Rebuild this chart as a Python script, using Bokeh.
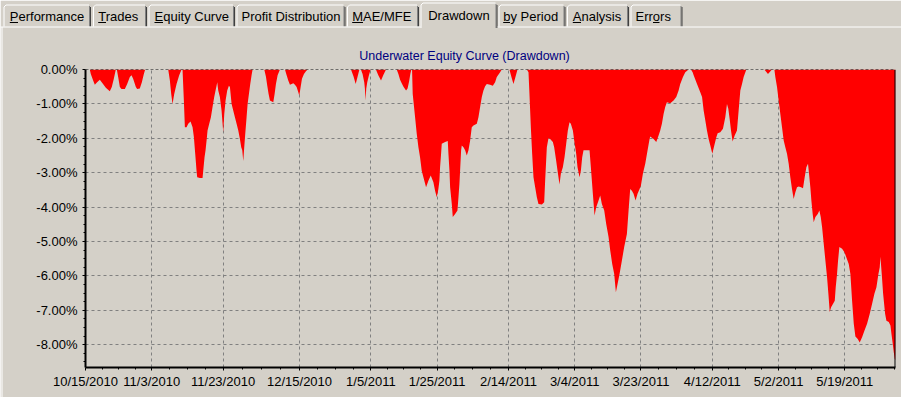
from bokeh.plotting import figure
from bokeh.models import Range1d, FixedTicker, PrintfTickFormatter, Span, ColumnDataSource
from bokeh.core.properties import value
from bokeh.embed import file_html
from bokeh.resources import INLINE

# ---------------- data ----------------
# x = trading-day index counted from 10/15/2010, y = drawdown in percent
day_index = [
    0.00, 0.84, 1.04, 1.50, 1.83, 2.28, 2.81, 3.33, 3.99, 4.77, 5.16, 5.56, 5.95, 6.15, 6.41, 6.74, 7.06, 7.72, 8.18,
    8.70, 9.03, 9.35, 9.88, 10.14, 10.66, 11.06, 11.45, 11.71,
    16.23, 16.55, 16.82, 17.08, 17.41, 17.87, 18.39, 18.85,
    19.04, 19.30, 19.50, 19.83, 20.16, 20.61, 21.01, 21.27, 21.53, 21.79, 21.92, 22.45, 22.97, 23.17, 23.36, 23.56,
    23.76, 23.95, 24.28, 24.61, 24.93, 25.26, 25.52, 25.72, 25.85, 26.05, 26.37, 26.70, 26.90, 27.03, 27.23, 27.49,
    27.81, 28.14, 28.34, 28.67, 28.99, 29.32, 29.65, 29.98, 30.30, 30.56, 30.76, 30.96, 31.15, 31.35, 31.61, 31.81,
    32.07, 32.33, 32.59, 32.79,
    35.08, 35.41, 35.67, 35.93, 36.19, 36.85, 37.11, 37.37, 37.70, 38.16,
    39.14, 39.47, 39.79, 40.12, 40.45, 40.78, 41.10, 41.43, 41.76, 41.95, 42.22, 42.48, 42.87, 43.26, 43.59,
    52.10, 52.60, 53.02, 53.40, 53.75,
    54.04, 54.37, 54.70, 54.83, 54.96, 55.09, 55.29, 55.62, 55.94,
    56.99, 57.46, 57.99, 58.45, 58.97,
    61.07, 61.40, 61.73, 62.05, 62.40, 62.90, 63.20, 63.50, 63.75, 63.95,
    64.08, 64.21, 64.47, 64.74, 65.00, 65.33, 65.65, 65.98, 66.31, 66.57, 66.83, 67.29, 67.75, 68.27, 68.60, 68.93,
    69.25, 69.45, 69.58, 69.78, 69.91, 70.57, 71.09, 71.22, 71.42, 71.55, 71.88, 72.07, 72.53, 72.99, 73.19, 73.38,
    73.51, 73.71, 73.84, 74.17, 74.50, 74.82, 75.15, 75.48, 75.80, 76.13, 76.79, 77.11, 77.44, 77.77, 78.09, 78.42,
    78.75, 79.40, 79.93, 80.38, 80.71, 81.36, 81.69,
    83.19, 83.58, 83.98, 84.37, 84.77,
    86.60, 86.93, 87.12, 87.39, 87.65, 87.91, 88.24, 88.57, 88.89, 89.55, 90.01, 90.20, 90.53, 90.86, 91.18, 91.71,
    91.97, 92.36, 92.63, 93.02, 93.28, 93.67, 94.00, 94.33, 94.65, 94.98, 95.24, 95.64, 95.90, 96.29, 96.55, 96.95,
    97.21, 97.47, 97.73, 98.91, 99.17, 99.56, 99.89, 100.22, 100.68, 101.00, 101.33, 101.79, 102.18, 102.64, 102.97,
    103.36, 103.75, 104.08, 104.41, 104.80, 105.26, 105.71, 106.24, 106.57, 106.89, 107.22, 107.55, 107.94, 108.33,
    108.73, 108.99, 109.38, 109.84, 110.30, 110.69, 110.82, 111.48, 112.00, 112.46, 112.78, 113.11, 113.44, 113.76,
    114.09, 114.75, 115.40, 115.93, 116.39, 116.71, 117.24, 117.70, 118.35,
    118.81, 119.14, 119.34, 120.00, 120.64, 120.99, 121.30, 121.63, 121.95, 122.28, 122.61, 123.00, 123.39, 123.79,
    124.05, 124.57, 125.09, 125.55, 125.88, 126.14, 126.40, 126.67, 126.99, 127.39, 127.84, 128.17, 128.50, 128.83,
    129.15, 129.68,
    133.21, 133.93, 134.71,
    135.18, 135.37, 135.70, 136.02, 136.35, 136.68, 137.01, 137.33, 137.66, 137.99, 138.31, 138.64, 138.97, 139.30,
    139.62, 139.95, 140.41, 140.80, 141.13, 141.46, 141.78, 141.98, 142.24, 142.44, 142.70, 142.90, 143.23, 143.69,
    144.01, 144.28, 144.54, 144.87, 145.19, 145.52, 145.78, 146.04, 146.31, 146.70, 147.03, 147.22, 147.48, 147.68,
    147.94, 148.47, 148.93, 149.31, 149.77, 150.10, 150.43, 150.76, 151.08, 151.54, 151.93, 152.39, 152.85, 153.37,
    153.90, 154.36, 154.81, 155.21, 155.60, 155.86, 155.99, 156.25, 156.52, 156.91, 157.17, 157.63, 157.96, 158.15,
    158.41, 158.61, 158.81, 158.95,
]
drawdown_pct = [
    0, 0, -0.13, -0.32, -0.44, -0.37, -0.30, -0.40, -0.53, -0.63, -0.51, -0.27, 0, 0, -0.22, -0.51, -0.57, -0.57, -0.42,
    -0.22, -0.17, -0.27, -0.51, -0.57, -0.55, -0.37, -0.13, 0,
    0, -0.31, -0.71, -1.00, -0.71, -0.42, -0.17, 0,
    0, -0.90, -1.68, -1.68, -1.58, -1.51, -1.68, -1.97, -2.45, -2.94, -3.13, -3.15, -3.15, -2.84, -2.55, -2.35,
    -2.06, -1.77, -1.58, -1.39, -1.09, -0.80, -0.61, -0.47, -0.37, -0.61, -0.80, -1.19, -1.58, -1.82, -1.29, -0.90,
    -0.61, -0.47, -0.51, -1.00, -1.19, -1.39, -1.58, -1.77, -2.02, -2.26, -2.35, -2.66, -2.26, -1.87, -1.39, -1.00,
    -0.71, -0.42, -0.17, 0,
    0, -0.21, -0.47, -0.71, -0.90, -0.95, -0.71, -0.42, -0.17, 0,
    0, -0.17, -0.32, -0.44, -0.42, -0.40, -0.44, -0.51, -0.66, -0.76, -0.51, -0.27, -0.13, -0.05, 0,
    0, -0.20, -0.42, -0.20, 0,
    0, -0.13, -0.37, -0.56, -0.90, -0.56, -0.37, -0.17, 0,
    0, -0.17, -0.32, -0.16, 0,
    0, -0.13, -0.30, -0.40, -0.50, -0.61, -0.55, -0.35, -0.12, 0,
    0, -0.71, -1.09, -1.48, -1.87, -2.26, -2.55, -2.94, -3.13, -3.28, -3.42, -3.23, -3.08, -3.28, -3.52, -3.71,
    -3.47, -3.23, -2.84, -2.45, -2.16, -2.11, -2.08, -2.45, -2.94, -3.42, -3.91, -4.29, -4.20, -4.10, -3.71, -3.32,
    -2.94, -2.35, -2.21, -2.26, -2.35, -2.50, -2.35, -2.06, -1.68, -1.63, -1.58, -1.39, -1.09, -0.80, -0.61, -0.49,
    -0.42, -0.44, -0.47, -0.37, -0.22, -0.08, 0,
    0, -0.22, -0.42, -0.22, 0,
    0, -0.08, -0.71, -1.68, -2.45, -3.13, -3.42, -3.71, -3.91, -3.92, -3.86, -3.23, -2.26, -1.99, -2.02, -2.11,
    -2.26, -2.65, -2.94, -3.34, -3.03, -2.84, -2.55, -2.16, -1.77, -1.53, -1.58, -1.77, -2.06, -2.45, -2.84, -3.13,
    -2.94, -2.55, -2.35, -2.35, -2.84, -3.61, -4.24, -4.00, -3.81, -3.66, -3.91, -4.10, -4.49, -4.87, -5.26,
    -5.65, -5.94, -6.47, -6.23, -5.94, -5.55, -5.16, -4.78, -4.10, -3.47, -3.52, -3.61, -3.81, -3.61,
    -3.47, -3.37, -3.03, -2.74, -2.35, -2.02, -1.95, -2.02, -2.11, -1.92, -1.77, -1.58, -1.29, -1.09,
    -0.95, -0.98, -0.90, -0.80, -0.61, -0.42, -0.22, -0.08, 0,
    0, -0.08, -0.17, -0.42, -0.66, -0.80, -1.19, -1.48, -1.77, -2.02, -2.21, -2.45, -2.21, -1.97,
    -1.85, -1.82, -1.72, -1.39, -1.00, -1.14, -1.43, -1.77, -2.09, -1.92, -1.77, -1.19, -0.61, -0.42,
    -0.22, 0,
    0, -0.13, 0,
    0, -0.22, -0.51, -0.90, -1.29, -1.68, -2.06, -2.26, -2.45, -2.74, -3.13, -3.47, -3.76, -3.57,
    -3.42, -3.40, -3.42, -3.45, -3.13, -2.84, -2.74, -3.03, -3.42, -3.81, -4.20, -4.44, -4.29, -4.20,
    -4.10, -4.29, -4.58, -5.07, -5.55, -6.04, -6.52, -7.05, -6.91, -6.81, -6.72, -6.33, -5.94, -5.55,
    -5.16, -5.21, -5.31, -5.46, -5.65, -5.94, -6.72, -7.39, -7.76, -7.83, -7.93, -7.78, -7.59, -7.39,
    -7.10, -6.81, -6.52, -6.33, -5.94, -5.75, -5.44, -5.94, -6.52, -7.10, -7.30, -7.34, -7.44, -7.68,
    -7.97, -8.22, -8.41, -8.45,
]

tick_days = [0, 13, 27, 42, 56, 69, 83, 96, 109, 123, 136, 149]
tick_labels = ["10/15/2010", "11/3/2010", "11/23/2010", "12/15/2010", "1/5/2011", "1/25/2011",
               "2/14/2011", "3/4/2011", "3/23/2011", "4/12/2011", "5/2/2011", "5/19/2011"]
y_ticks = [0, -1, -2, -3, -4, -5, -6, -7, -8]

chart_title = "Underwater Equity Curve (Drawdown)"
tab_names = ["Performance", "Trades", "Equity Curve", "Profit Distribution", "MAE/MFE",
             "Drawdown", "by Period", "Analysis", "Errors"]
selected_tab = 5

# ---------------- layout / style ----------------
BG = "#D4D0C8"
FONT = value("Liberation Sans")
X_END = 158.95
Y_MIN = -8.66
W, H = 901, 397

# pixel geometry of the plot frame
FRAME_L, FRAME_R, FRAME_T, FRAME_B = 85, 895, 69, 367

# tab strip geometry (pixel coordinates)
tab_x0 = [3, 92.5, 148, 236, 346.5, 420, 498, 566.5, 630]
tab_x1 = [90.5, 146.5, 234.5, 345, 418.5, 497, 565, 628.5, 682]
tab_text_x = [9.3, 97.7, 154, 241, 351.7, 427.7, 502.7, 572.3, 635]
underline_x0 = [9.3, 97.7, 154, 351.7, 502.7, 572.3, 652.5]
underline_x1 = [17.5, 105.5, 162.5, 362.5, 509.5, 580.5, 659.0]

p = figure(width=W, height=H, x_range=Range1d(0, X_END), y_range=Range1d(Y_MIN, 0),
           output_backend="svg", toolbar_location=None,
           min_border_left=FRAME_L, min_border_right=W - FRAME_R, min_border_top=FRAME_T,
           min_border_bottom=H - FRAME_B,
           background_fill_color=BG, border_fill_color=BG, outline_line_color=None)
# pixel coordinate system for the window decoration (tab strip, title)
p.extra_x_ranges = {"px": Range1d(FRAME_L, FRAME_R)}
p.extra_y_ranges = {"py": Range1d(FRAME_B, FRAME_T)}
deco = dict(x_range_name="px", y_range_name="py", level="overlay")

src = ColumnDataSource(data=dict(x=day_index, y=drawdown_pct, base=[0] * len(day_index)))
p.varea(x="x", y1="base", y2="y", source=src, fill_color="#FF0000", fill_alpha=1)

minor_x = []
for a, b in zip(tick_days[:-1], tick_days[1:]):
    step = (b - a) / 4
    minor_x += [a + step * k for k in range(1, 4)]
last_step = (tick_days[-1] - tick_days[-2]) / 4
k = 1
while tick_days[-1] + last_step * k <= X_END:
    minor_x.append(tick_days[-1] + last_step * k)
    k += 1
xticker = FixedTicker(ticks=tick_days, minor_ticks=minor_x)
minor_y = [t - 0.25 * k for t in y_ticks for k in range(1, 4) if t - 0.25 * k >= Y_MIN]
yticker = FixedTicker(ticks=y_ticks, minor_ticks=minor_y)

p.xaxis.ticker = xticker
p.xgrid.ticker = xticker
p.yaxis.ticker = yticker
p.ygrid.ticker = yticker
p.xaxis.major_label_overrides = {d: lab for d, lab in zip(tick_days, tick_labels)}
p.yaxis.formatter = PrintfTickFormatter(format="%.2f%%")

for ax in (p.xaxis[0], p.yaxis[0]):
    ax.axis_line_color = "black"
    ax.axis_line_width = 2
    ax.major_tick_line_color = "black"
    ax.minor_tick_line_color = "black"
    ax.major_tick_out = 3
    ax.major_tick_in = 0
    ax.minor_tick_out = 2
    ax.minor_tick_in = 0
    ax.major_label_text_font = "Liberation Sans"
    ax.major_label_text_font_size = "13px"
    ax.major_label_text_color = "black"
p.xaxis.major_label_standoff = 3
p.yaxis.major_label_standoff = 5

p.grid.grid_line_color = "#808080"
p.grid.grid_line_dash = "3 3"
p.grid.grid_line_width = 1

p.add_layout(Span(location=0, dimension="width", line_color="black", line_dash="3 2", line_width=1))
p.add_layout(Span(location=X_END, dimension="height", line_color="black", line_width=2))

# ---------------- tab strip ----------------
white_xs, white_ys, dark_xs, dark_ys, black_xs, black_ys = [], [], [], [], [], []
for i in range(len(tab_names)):
    x0, x1 = tab_x0[i], tab_x1[i]
    t0, b0 = (2.5, 27.5) if i == selected_tab else (4.5, 26)
    white_xs.append([x0 + 0.5, x0 + 0.5, x0 + 2.5, x1 - 2])
    white_ys.append([b0, t0 + 2, t0, t0])
    dark_xs.append([x1 - 1.5, x1 - 1.5])
    dark_ys.append([t0 + 1, b0])
    black_xs.append([x1 - 0.5, x1 - 0.5])
    black_ys.append([t0 + 2, b0])
p.multi_line(white_xs, white_ys, line_color="white", line_width=1, **deco)
p.multi_line(dark_xs, dark_ys, line_color="#808080", line_width=1, **deco)
p.multi_line(black_xs, black_ys, line_color="#404040", line_width=1, **deco)
# panel highlight (top edge interrupted under the selected tab, plus left edge)
p.multi_line([[0, tab_x0[selected_tab]], [tab_x1[selected_tab], W], [1.5, 1.5]],
             [[26.5, 26.5], [26.5, 26.5], [26.5, H]],
             line_color="white", line_width=1, **deco)

text_y = [14.5 if i == selected_tab else 16.3 for i in range(len(tab_names))]
p.text(x=tab_text_x, y=text_y, text=tab_names, text_font=FONT, text_font_size="13px",
       text_baseline="middle", text_align="left", text_color="black", **deco)
p.segment(x0=underline_x0, y0=[22] * len(underline_x0), x1=underline_x1, y1=[22] * len(underline_x0),
          line_color="black", line_width=1, **deco)

p.text(x=[464], y=[55], text=[chart_title], text_font=FONT, text_font_size="12.5px",
       text_baseline="middle", text_align="center", text_color="#000080", **deco)

open("out.html", "w").write(file_html(p, INLINE))
